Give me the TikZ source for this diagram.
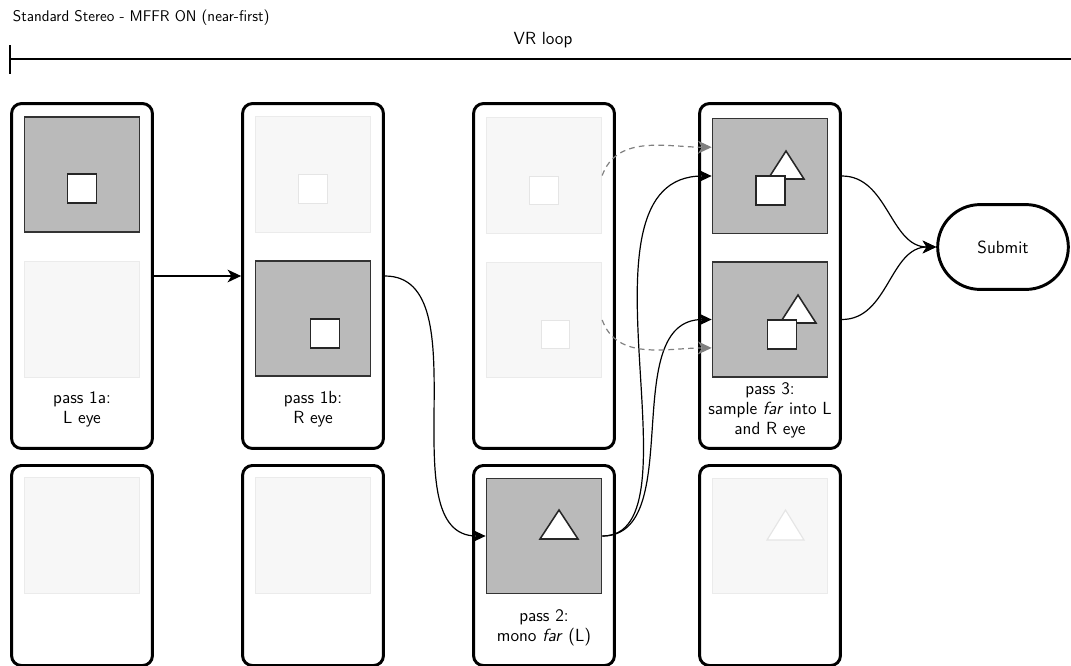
\documentclass[tikz,border=0pt]{standalone}
\usepackage{amsmath,amssymb}
\usepackage{tikz}
\usetikzlibrary{arrows.meta,calc,positioning,shapes}

\begin{document}
\begin{tikzpicture}[x=0.025cm,y=-0.025cm,font=\fontsize{12.5}{14.2}\selectfont\sffamily]
            \tikzstyle{pass} = [draw,line width=2.1pt,rounded corners=7pt,minimum width=3.52cm,minimum height=8.62cm,inner sep=0]
            \tikzstyle{passlow} = [pass,minimum height=5cm]
            \tikzstyle{frame} = [draw=black!80,line width=1.1pt,fill=black!27,minimum size=2.88cm,inner sep=0]
            \tikzstyle{ghost} = [draw=black!8,line width=0.8pt,fill=black!3,minimum size=2.88cm,inner sep=0]
            \tikzstyle{obj} = [draw=black!85,line width=1.1pt,fill=white,minimum size=0.72cm,inner sep=0]
            \tikzstyle{ghostobj} = [draw=black!10,line width=0.8pt,fill=white,minimum size=0.72cm,inner sep=0]
            \tikzstyle{tri} = [draw=black!85,line width=1.1pt,fill=white]
            \tikzstyle{ghosttri} = [draw=black!10,line width=0.8pt,fill=white]
            \tikzstyle{edge} = [-{Stealth[length=3.4mm,width=3.2mm,inset=1mm]},line width=0.85pt]
            \tikzstyle{reuse} = [edge,draw=black!50,dash pattern=on 4pt off 3pt]

            \path[use as bounding box,clip] (0,0) rectangle (1071,665);

            % header
            \node[anchor=west,font=\fontsize{11}{13}\selectfont\sffamily] (title) at (8,18) {Standard Stereo - MFFR ON (near-first)};
            \coordinate (loopL) at (10,59);
            \coordinate (loopR) at (1075,59);
            \draw[line width=0.8pt] (loopL) -- (loopR);
            \draw[line width=0.8pt] ($(loopL)+(0,-14)$) -- ($(loopL)+(0,15)$);
            \node (vr) at (543,40) {VR loop};

            % columns, stereo row and mono row
            \node[pass] (stereo1) at (82,276) {};
            \node[pass] (stereo2) at (313,276) {};
            \node[pass] (stereo3) at (544,276) {};
            \node[pass] (stereo4) at (770,276) {};
            \node[passlow] (mono1) at (82,565.5) {};
            \node[passlow] (mono2) at (313,565.5) {};
            \node[passlow] (mono3) at (544,565.5) {};
            \node[passlow] (mono4) at (770,565.5) {};

            % eye buffers
            \node[frame] (L1) at (82,174.5) {};
            \node[ghost] (R1) at (82,319.5) {};
            \node[ghost] (L2) at (313,174.5) {};
            \node[frame] (R2) at (313,318.5) {};
            \node[ghost] (L3) at (544,175.5) {};
            \node[ghost] (R3) at (544,320) {};
            \node[frame] (L4) at (770,176) {};
            \node[frame] (R4) at (770,319.5) {};
            \node[ghost] (F1) at (82,535.5) {};
            \node[ghost] (F2) at (313,535.5) {};
            \node[frame] (F3) at (544,536) {};
            \node[ghost] (F4) at (770,536) {};

            % far objects
            \filldraw[tri] (786,151) -- (804,179) -- (768,179) -- cycle;
            \filldraw[tri] (798,295) -- (816,323) -- (780,323) -- cycle;
            \filldraw[tri] (559,510) -- (578,539) -- (540,539) -- cycle;
            \filldraw[ghosttri] (785.5,510) -- (804,540) -- (767,540) -- cycle;

            % near objects
            \node[obj] (nearL1) at (82,188.5) {};
            \node[ghostobj] (nearL2) at (313,189) {};
            \node[obj] (nearR2) at (325,333.5) {};
            \node[ghostobj] (nearL3) at (544,190.5) {};
            \node[ghostobj] (nearR3) at (555.5,334.5) {};
            \node[obj] (nearL4) at (770.5,190.5) {};
            \node[obj] (nearR4) at (782,334.5) {};

            % labels
            \node[align=center] (lbl1) at (82,409) {pass 1a:\\L eye};
            \node[align=center] (lbl2) at (313,409) {pass 1b:\\R eye};
            \node[align=center] (lbl3) at (544,628) {pass 2:\\mono \textit{far} (L)};
            \node[align=center] (lbl4) at (770,410) {pass 3:\\sample \textit{far} into L\\and R eye};

            \node[draw,rounded rectangle,line width=2.1pt,minimum width=3.5cm,minimum height=2.12cm] (submit) at (1003,247) {Submit};

            \draw[edge] (stereo1) -- (stereo2);
            \draw[edge] (stereo2.east) to[out=0,in=180,looseness=0.9] (F3.west);
            \draw[edge] (F3.east) to[out=0,in=180,out looseness=0.7,in looseness=1] (L4.west);
            \draw[edge] (F3.east) to[out=0,in=180,out looseness=0.9,in looseness=1] (R4.west);
            \draw[reuse] (L3.east) to[out=70,in=180] ([yshift=0.72cm]L4.west);
            \draw[reuse] (R3.east) to[out=-70,in=180] ([yshift=-0.71cm]R4.west);
            \draw[edge] (stereo4.east |- L4) to[out=0,in=180] (submit.west);
            \draw[edge] (stereo4.east |- R4) to[out=0,in=180] (submit.west);
        \end{tikzpicture}
\end{document}
